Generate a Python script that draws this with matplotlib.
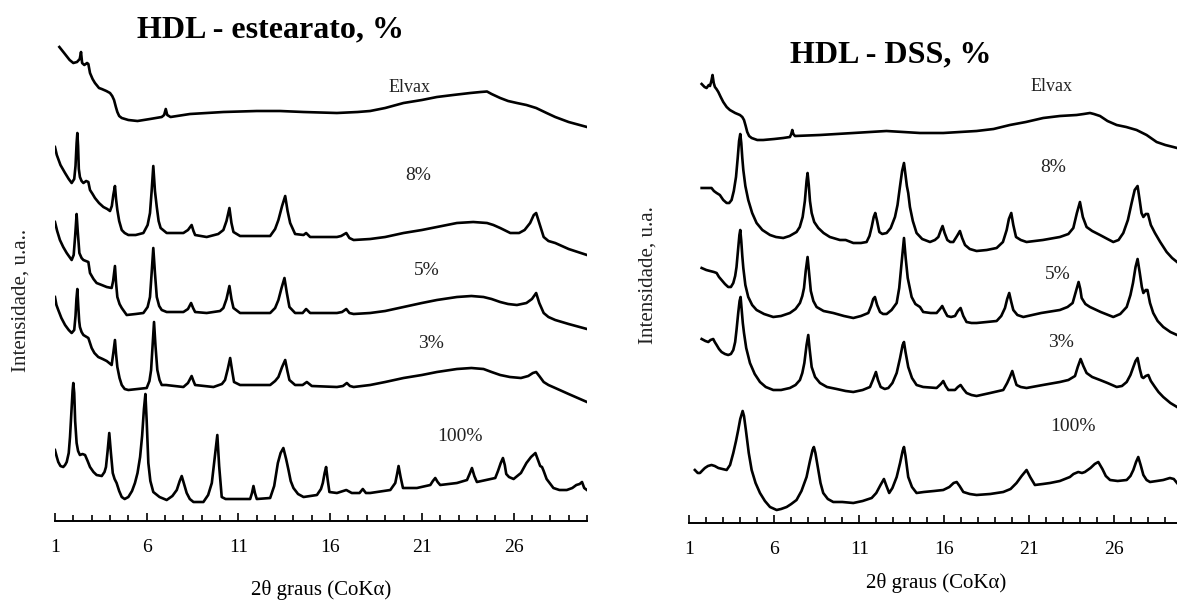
import matplotlib.pyplot as plt
from matplotlib.ticker import FixedLocator, MultipleLocator

plt.rcParams['font.family'] = ['Liberation Serif', 'DejaVu Serif']

# ---- HDL - estearato (left panel), 2theta / intensity (u.a.) ----
est_elvax_x = [1.24, 1.5, 1.8, 2.0, 2.2, 2.35, 2.42, 2.48, 2.6, 2.75, 2.82, 2.91, 3.05, 3.18, 3.4, 3.55, 3.8, 4.0,
               4.12, 4.22, 4.32, 4.4, 4.5, 4.64, 5.0, 5.5, 6.18, 6.82, 6.95, 7.04, 7.12, 7.3, 8.36, 10.18, 12.0,
               13.27, 14.55, 16.37, 17.5, 18.18, 19.0, 20.0, 21.0, 21.82, 22.7, 23.64, 24.2, 24.55, 24.8, 25.27,
               25.7, 26.18, 26.7, 27.23, 27.8, 28.27, 29.0, 30.0]
est_elvax_y = [474, 468, 461, 458, 459, 462, 469, 458, 456, 458, 457, 448, 442, 438, 433, 432, 430, 428,
               425, 421, 414, 409, 405, 403, 401, 400, 402, 404, 406, 412, 406, 404, 407, 409, 410,
               410, 409, 408, 409, 410, 413, 418, 421, 424, 426, 428, 429, 429.5, 427, 423,
               420, 418, 416, 413, 408, 404, 399, 394]

est_8_x = [1.0, 1.1, 1.3, 1.55, 1.75, 1.91, 2.05, 2.12, 2.18, 2.22, 2.26, 2.3, 2.36, 2.45, 2.55, 2.7, 2.82, 2.91,
           3.05, 3.18, 3.4, 3.64, 3.85, 4.0, 4.1, 4.18, 4.27, 4.33, 4.4, 4.5, 4.64, 4.8, 5.0, 5.4, 5.82, 6.05,
           6.18, 6.27, 6.36, 6.45, 6.55, 6.65, 6.76, 7.09, 7.5, 8.0, 8.25, 8.45, 8.55, 8.64, 9.27, 9.9, 10.18,
           10.35, 10.51, 10.62, 10.73, 11.09, 12.0, 12.73, 13.0, 13.18, 13.38, 13.55, 13.68, 13.82, 14.09, 14.55,
           14.69, 14.91, 16.37, 16.6, 16.88, 17.05, 17.28, 18.18, 19.0, 20.0, 21.0, 21.82, 22.91, 23.8, 24.55,
           24.9, 25.27, 25.82, 26.3, 26.6, 26.9, 27.1, 27.23, 27.4, 27.64, 27.9, 28.27, 29.0, 30.0]
est_8_y = [374, 366, 356, 348, 342, 338, 342, 355, 378, 388, 375, 352, 344, 340, 338, 340, 339, 331,
           327, 323, 318, 314, 312, 310, 315, 326, 335, 322, 311, 300, 291, 288, 286, 286, 288, 296,
           308, 330, 355, 330, 314, 300, 293, 288, 288, 288, 291, 296, 290, 286, 284, 287, 291,
           300, 313, 298, 289, 285, 285, 285, 292, 301, 315, 325, 310, 298, 287, 286,
           288, 284, 284, 285, 288, 283, 281, 282, 284, 288, 291, 294, 298, 299, 298,
           296, 293, 288, 288, 291, 298, 306, 308, 298, 284, 280, 278, 272, 266]

est_5_x = [1.0, 1.12, 1.27, 1.45, 1.64, 1.91, 2.02, 2.1, 2.18, 2.24, 2.33, 2.45, 2.55, 2.82, 2.91, 3.1, 3.27, 3.55,
           3.82, 4.09, 4.17, 4.27, 4.33, 4.4, 4.52, 4.64, 4.91, 5.4, 5.82, 6.05, 6.18, 6.27, 6.36, 6.45, 6.55,
           6.68, 6.82, 7.09, 8.0, 8.25, 8.42, 8.53, 8.64, 9.27, 10.0, 10.18, 10.35, 10.51, 10.62, 10.73, 11.09,
           12.73, 13.0, 13.18, 13.35, 13.51, 13.64, 13.78, 14.09, 14.5, 14.69, 14.91, 16.37, 16.65, 16.88,
           17.05, 17.28, 18.18, 19.0, 20.0, 21.0, 21.82, 22.91, 23.7, 24.36, 24.8, 25.27, 25.7, 26.18, 26.7,
           27.0, 27.23, 27.4, 27.64, 27.9, 28.27, 29.0, 30.0]
est_5_y = [299, 290, 281, 274, 268, 261, 266, 285, 307, 290, 268, 263, 261, 259, 248, 242, 238, 236,
           234, 233, 240, 255, 238, 224, 217, 213, 206, 207, 208, 214, 224, 248, 273, 248, 224,
           215, 211, 209, 209, 212, 218, 213, 209, 208, 210, 213, 222, 235, 222, 213, 208,
           208, 213, 221, 233, 243, 228, 214, 208, 208, 212, 208, 208, 209, 212,
           208, 207, 208, 210, 214, 218, 221, 224, 225, 224, 222, 219, 217, 216, 218,
           222, 228, 218, 208, 204, 201, 197, 192]

est_3_x = [1.0, 1.08, 1.18, 1.35, 1.55, 1.75, 1.91, 2.05, 2.12, 2.17, 2.22, 2.27, 2.32, 2.36, 2.45, 2.55, 2.82,
           3.0, 3.15, 3.36, 3.6, 3.82, 4.09, 4.18, 4.27, 4.33, 4.4, 4.52, 4.64, 4.8, 5.0, 5.5, 6.0, 6.15, 6.24,
           6.32, 6.4, 6.48, 6.58, 6.7, 6.82, 7.05, 8.0, 8.25, 8.45, 8.55, 8.64, 9.64, 10.1, 10.27, 10.42, 10.55,
           10.66, 10.76, 11.09, 12.73, 13.0, 13.18, 13.38, 13.55, 13.67, 13.78, 14.09, 14.5, 14.73, 15.0, 16.37,
           16.7, 16.91, 17.08, 17.28, 18.18, 19.0, 20.0, 21.0, 21.82, 22.91, 23.7, 24.36, 24.8, 25.27, 25.8,
           26.4, 26.8, 27.05, 27.23, 27.4, 27.64, 27.9, 28.27, 29.0, 30.0]
est_3_y = [224, 216, 211, 203, 196, 191, 188, 191, 205, 222, 232, 215, 200, 194, 189, 186, 183,
           173, 168, 164, 162, 160, 156, 168, 181, 167, 154, 143, 136, 132, 131, 132, 133, 140, 151,
           175, 199, 175, 151, 141, 136, 136, 134, 138, 145, 140, 136, 134, 137, 141, 152, 163,
           150, 139, 136, 136, 140, 144, 154, 161, 150, 141, 136, 136, 139, 135, 134,
           135, 138, 135, 134, 136, 139, 143, 146, 149, 152, 153, 152, 149, 146, 144,
           143, 145, 148, 149, 145, 139, 136, 133, 127, 119]

est_100_x = [1.0, 1.1, 1.18, 1.3, 1.45, 1.55, 1.64, 1.75, 1.82, 1.9, 1.96, 2.0, 2.05, 2.1, 2.18, 2.26, 2.36, 2.5,
             2.64, 2.78, 2.91, 3.1, 3.27, 3.55, 3.7, 3.78, 3.87, 3.96, 4.05, 4.15, 4.25, 4.36, 4.5, 4.64, 4.8,
             5.0, 5.2, 5.36, 5.5, 5.64, 5.75, 5.85, 5.93, 6.0, 6.09, 6.2, 6.36, 6.7, 7.09, 7.4, 7.64, 7.8, 7.91,
             8.02, 8.18, 8.35, 8.55, 9.09, 9.35, 9.55, 9.7, 9.85, 9.95, 10.09, 10.3, 10.55, 11.64, 11.74, 11.82,
             11.9, 12.0, 12.73, 12.95, 13.15, 13.3, 13.45, 13.6, 13.73, 13.85, 14.0, 14.25, 14.55, 15.28, 15.5,
             15.6, 15.7, 15.78, 15.86, 15.96, 16.37, 16.88, 17.18, 17.6, 17.78, 17.95, 18.18, 19.28, 19.55,
             19.65, 19.73, 19.84, 19.97, 20.73, 21.46, 21.6, 21.73, 21.86, 22.0, 22.91, 23.46, 23.6, 23.73,
             23.86, 24.0, 24.5, 25.0, 25.15, 25.3, 25.42, 25.52, 25.6, 25.75, 26.0, 26.4, 26.7, 26.95, 27.19,
             27.35, 27.45, 27.55, 27.64, 27.8, 28.17, 28.5, 28.9, 29.2, 29.42, 29.6, 29.73, 29.85, 30.0]
est_100_y = [71, 64, 59, 55, 54, 56, 59, 68, 84, 110, 130, 138, 128, 100, 78, 70, 66, 67,
             66, 60, 54, 49, 46, 45, 49, 54, 70, 88, 68, 48, 42, 38, 30, 24, 22,
             24, 30, 38, 48, 64, 85, 112, 127, 100, 58, 40, 29, 24, 21, 25, 31, 40, 45,
             38, 28, 22, 19, 19, 26, 38, 62, 86, 55, 24, 22, 22, 22, 28, 35,
             28, 22, 23, 35, 58, 68, 73, 62, 51, 40, 33, 27, 24, 26, 32,
             38, 48, 54, 42, 29, 28, 31, 28, 28, 32, 28, 28, 31, 38,
             47, 55, 44, 33, 33, 36, 40, 43, 39, 36, 38, 41, 47, 53,
             45, 39, 41, 43, 50, 58, 63, 56, 47, 44, 42, 48, 58, 64, 68,
             60, 55, 54, 50, 42, 33, 31, 31, 33, 36, 37, 39, 33, 31]

# ---- HDL - DSS (right panel) ----
dss_elvax_x = [1.73, 1.9, 2.02, 2.15, 2.22, 2.3, 2.37, 2.44, 2.51, 2.6, 2.71, 2.85, 3.0, 3.2, 3.39, 3.7, 3.98,
               4.12, 4.22, 4.32, 4.41, 4.52, 4.67, 5.0, 5.35, 6.0, 6.53, 6.92, 7.0, 7.06, 7.12, 7.22, 8.69, 10.65,
               12.6, 14.57, 15.94, 17.9, 18.9, 19.86, 20.8, 21.82, 22.8, 23.78, 24.2, 24.57, 24.8, 25.16, 25.6,
               26.14, 26.7, 27.31, 27.9, 28.49, 29.0, 29.47, 29.69]
dss_elvax_y = [439, 436, 435, 438, 437, 442, 448, 440, 436, 434, 431, 426, 421, 416, 413, 410, 408,
               406, 403, 397, 391, 387, 385, 383, 383, 384, 385, 386, 389, 393, 389, 387, 388, 390,
               392, 390, 390, 392, 394, 398, 401, 405, 407, 408, 409, 410, 409, 407, 402,
               398, 396, 393, 388, 381, 378, 376, 375]

dss_8_x = [1.73, 2.0, 2.31, 2.45, 2.61, 2.8, 3.0, 3.2, 3.35, 3.49, 3.62, 3.75, 3.85, 3.93, 4.0, 4.06, 4.12, 4.18,
           4.3, 4.47, 4.7, 4.96, 5.3, 5.75, 6.1, 6.53, 6.9, 7.31, 7.5, 7.67, 7.8, 7.9, 7.96, 8.03, 8.1, 8.2, 8.35,
           8.59, 8.9, 9.27, 9.86, 10.2, 10.65, 11.1, 11.43, 11.6, 11.73, 11.85, 11.94, 12.05, 12.18, 12.35,
           12.61, 12.85, 13.1, 13.25, 13.39, 13.52, 13.63, 13.72, 13.8, 13.88, 13.98, 14.15, 14.37, 14.7, 15.16,
           15.45, 15.65, 15.8, 15.9, 16.02, 16.18, 16.35, 16.53, 16.75, 16.92, 17.05, 17.22, 17.5, 17.9, 18.5,
           19.08, 19.45, 19.67, 19.8, 19.94, 20.06, 20.22, 20.5, 20.84, 21.8, 22.8, 23.3, 23.59, 23.8, 23.98,
           24.15, 24.37, 24.7, 25.16, 25.6, 25.94, 26.25, 26.53, 26.8, 27.02, 27.2, 27.37, 27.5, 27.6, 27.71,
           27.85, 27.98, 28.15, 28.39, 28.7, 29.08, 29.4, 29.69]
dss_8_y = [335, 335, 335, 332, 330, 328, 323, 320, 320, 323, 332, 346, 365, 382, 389, 380, 365, 353,
           337, 323, 310, 300, 293, 288, 286, 285, 287, 291, 296, 306, 322, 342, 350, 338, 322, 310, 301,
           295, 290, 286, 283, 283, 280, 280, 281, 287, 296, 306, 310, 302, 291, 289,
           290, 295, 306, 318, 336, 352, 360, 348, 337, 330, 316, 302, 290, 284, 281,
           283, 286, 293, 297, 290, 283, 281, 281, 287, 292, 285, 278, 274, 272, 273,
           275, 281, 293, 304, 310, 298, 286, 283, 281, 283, 286, 289, 295, 310, 321,
           306, 296, 292, 288, 284, 281, 283, 290, 303, 320, 333, 337, 322, 310, 306,
           309, 309, 298, 290, 281, 271, 265, 261]

dss_5_x = [1.73, 2.0, 2.22, 2.45, 2.61, 2.75, 2.9, 3.1, 3.29, 3.45, 3.59, 3.7, 3.78, 3.88, 3.95, 4.0, 4.06, 4.12,
           4.18, 4.3, 4.47, 4.7, 4.96, 5.4, 5.94, 6.4, 6.92, 7.25, 7.51, 7.65, 7.75, 7.85, 7.96, 8.05, 8.15, 8.3,
           8.49, 8.9, 9.47, 10.1, 10.65, 11.1, 11.53, 11.7, 11.82, 11.92, 12.05, 12.22, 12.4, 12.61, 12.9, 13.2,
           13.35, 13.5, 13.63, 13.73, 13.85, 14.08, 14.3, 14.57, 14.76, 15.2, 15.55, 15.75, 15.88, 16.02, 16.18,
           16.4, 16.63, 16.8, 16.96, 17.12, 17.31, 17.6, 17.9, 18.5, 19.08, 19.35, 19.57, 19.7, 19.82, 19.94,
           20.06, 20.3, 20.65, 21.7, 22.8, 23.25, 23.55, 23.75, 23.9, 24.0, 24.08, 24.3, 24.57, 25.2, 25.94,
           26.35, 26.73, 26.95, 27.1, 27.25, 27.37, 27.5, 27.62, 27.71, 27.85, 27.95, 28.1, 28.29, 28.55,
           28.88, 29.3, 29.69]
dss_5_y = [255, 253, 252, 251, 250, 246, 243, 239, 236, 236, 240, 247, 256, 275, 288, 293, 282, 267,
           255, 238, 226, 218, 213, 209, 206, 207, 210, 214, 220, 227, 235, 252, 266, 250, 232, 222,
           216, 212, 210, 207, 205, 207, 210, 217, 224, 226, 218, 211, 209, 209, 213, 220,
           235, 262, 285, 265, 245, 226, 219, 216, 211, 210, 210, 214, 217, 212, 207,
           206, 207, 212, 215, 207, 201, 200, 200, 201, 202, 207, 215, 224, 230, 221,
           213, 208, 206, 210, 213, 216, 220, 232, 241, 234, 225, 219, 216, 211, 206,
           209, 216, 228, 240, 256, 264, 250, 236, 230, 233, 233, 220, 210, 202,
           196, 191, 188]

dss_3_x = [1.73, 1.95, 2.12, 2.25, 2.41, 2.5, 2.61, 2.75, 2.9, 3.1, 3.29, 3.45, 3.59, 3.7, 3.78, 3.88, 3.96, 4.02,
           4.08, 4.15, 4.22, 4.35, 4.57, 4.85, 5.16, 5.5, 5.94, 6.4, 6.92, 7.25, 7.51, 7.65, 7.77, 7.9, 8.0, 8.08,
           8.2, 8.4, 8.69, 9.1, 9.67, 10.2, 10.65, 11.2, 11.63, 11.8, 11.98, 12.1, 12.26, 12.5, 12.71, 12.95,
           13.2, 13.4, 13.55, 13.63, 13.72, 13.88, 14.1, 14.37, 14.76, 15.55, 15.8, 15.94, 16.08, 16.24, 16.63,
           16.8, 16.96, 17.12, 17.31, 17.6, 17.9, 18.7, 19.47, 19.7, 19.86, 20.0, 20.12, 20.25, 20.5, 20.84,
           21.8, 22.8, 23.3, 23.69, 23.85, 24.02, 24.18, 24.37, 24.7, 25.16, 25.6, 26.14, 26.45, 26.73, 26.95,
           27.12, 27.25, 27.37, 27.5, 27.62, 27.71, 27.85, 28.0, 28.15, 28.39, 28.6, 28.88, 29.3, 29.69]
dss_3_y = [184, 182, 181, 183, 184, 181, 178, 174, 171, 169, 168, 169, 173, 181, 193, 210, 222, 226,
           214, 200, 190, 175, 160, 149, 141, 136, 133, 133, 135, 138, 143, 150, 160, 178, 188, 174,
           156, 146, 140, 136, 134, 132, 131, 133, 136, 143, 151, 143, 136, 134, 135, 140,
           150, 165, 178, 181, 171, 156, 145, 138, 136, 135, 139, 142, 137, 133, 133,
           136, 138, 134, 130, 128, 127, 130, 133, 140, 146, 152, 145, 138, 136, 135,
           138, 141, 143, 147, 156, 164, 157, 150, 146, 143, 140, 136, 137, 141, 148,
           156, 162, 165, 154, 146, 145, 147, 148, 142, 136, 131, 126, 120, 116]

dss_100_x = [1.33, 1.5, 1.63, 1.8, 1.92, 2.1, 2.31, 2.5, 2.71, 2.95, 3.2, 3.4, 3.59, 3.75, 3.88, 4.0, 4.14, 4.22,
             4.33, 4.5, 4.67, 4.9, 5.16, 5.45, 5.75, 6.14, 6.4, 6.73, 7.0, 7.31, 7.6, 7.9, 8.1, 8.25, 8.33, 8.42,
             8.59, 8.72, 8.88, 9.15, 9.47, 10.0, 10.65, 11.2, 11.73, 12.0, 12.25, 12.45, 12.6, 12.76, 12.95,
             13.2, 13.4, 13.55, 13.63, 13.72, 13.88, 14.1, 14.37, 14.8, 15.4, 15.94, 16.3, 16.55, 16.73, 16.9,
             17.12, 17.5, 17.9, 18.7, 19.47, 19.9, 20.25, 20.55, 20.84, 21.05, 21.33, 21.8, 22.22, 22.8, 23.39,
             23.6, 23.88, 24.1, 24.27, 24.6, 24.85, 25.06, 25.3, 25.5, 25.75, 26.2, 26.73, 26.95, 27.12, 27.28,
             27.41, 27.55, 27.71, 27.9, 28.1, 28.5, 28.88, 29.27, 29.5, 29.69]
dss_100_y = [53, 50, 50, 53, 55, 57, 58, 57, 55, 54, 53, 58, 70, 82, 93, 104, 112, 107,
             93, 70, 53, 40, 30, 22, 16, 13, 14, 16, 19, 23, 32, 46, 62, 73, 76, 70,
             53, 40, 30, 24, 21, 21, 20, 22, 25, 30, 38, 44, 37, 30, 35,
             46, 60, 72, 76, 67, 46, 36, 30, 31, 32, 33, 36, 40, 41, 37,
             31, 29, 28, 29, 31, 34, 40, 47, 53, 46, 38, 39, 40, 42, 46,
             49, 51, 50, 51, 55, 59, 61, 54, 47, 43, 42, 43, 47, 53, 61,
             66, 58, 48, 43, 41, 42, 43, 45, 44, 40]

sample_labels = ['Elvax', '8%', '5%', '3%', '100%']
est_label_pos = [(20.33, 434), (20.79, 346), (21.24, 251), (21.5, 178), (23.06, 85)]
dss_label_pos = [(22.32, 436), (22.38, 355), (22.65, 248), (22.85, 180), (23.59, 96)]

fig = plt.figure(figsize=(11.77, 6.01), dpi=100)
ax1 = fig.add_axes([0.0467, 0.1331, 0.452, 0.8669])
ax2 = fig.add_axes([0.5856, 0.1298, 0.4189, 0.8702])


def draw_panel(ax, curves, label_pos, ymax, ylab, ylab_pos, xlab_y):
    for x, y in curves:
        ax.plot(x, y, color='black', lw=1.9, solid_joinstyle='round')
    for i in range(len(sample_labels)):
        fs = 13 if sample_labels[i] == 'Elvax' else 14
        ax.text(label_pos[i][0], label_pos[i][1], sample_labels[i], fontsize=fs,
                ha='center', va='center', color='#222222')
    ax.set_xlim(1, 30)
    ax.set_ylim(0, ymax)
    for s in ['left', 'right', 'top']:
        ax.spines[s].set_visible(False)
    ax.spines['bottom'].set_linewidth(1.4)
    ax.set_yticks([])
    ax.xaxis.set_major_locator(FixedLocator([1, 6, 11, 16, 21, 26]))
    ax.xaxis.set_minor_locator(MultipleLocator(1))
    ax.tick_params(axis='x', which='both', direction='in', width=1.2, labelsize=14, pad=13)
    ax.tick_params(axis='x', which='major', length=5.5)
    ax.tick_params(axis='x', which='minor', length=4.5)
    ax.patch.set_alpha(0)
    ax.text(ylab_pos[0], ylab_pos[1], ylab, rotation=90, fontsize=15,
            ha='center', va='center', transform=ax.transAxes, color='#222222')
    ax.text(0.5, xlab_y, '2\u03b8 graus (CoK\u03b1)', fontsize=15,
            ha='center', va='center', transform=ax.transAxes)


draw_panel(ax1, [(est_elvax_x, est_elvax_y), (est_8_x, est_8_y), (est_5_x, est_5_y),
                 (est_3_x, est_3_y), (est_100_x, est_100_y)],
           est_label_pos, 521, 'Intensidade, u.a..', (-0.064, 0.424), -0.1324)
draw_panel(ax2, [(dss_elvax_x, dss_elvax_y), (dss_8_x, dss_8_y), (dss_5_x, dss_5_y),
                 (dss_3_x, dss_3_y), (dss_100_x, dss_100_y)],
           dss_label_pos, 523, 'Intensidade, u.a.', (-0.084, 0.474), -0.1147)

fig.text(0.2301, 0.950, 'HDL - estearato, %', fontsize=23, fontweight='bold', ha='center', va='center')
fig.text(0.7566, 0.9085, 'HDL - DSS, %', fontsize=23, fontweight='bold', ha='center', va='center')

fig.savefig('out.png', dpi=100)
